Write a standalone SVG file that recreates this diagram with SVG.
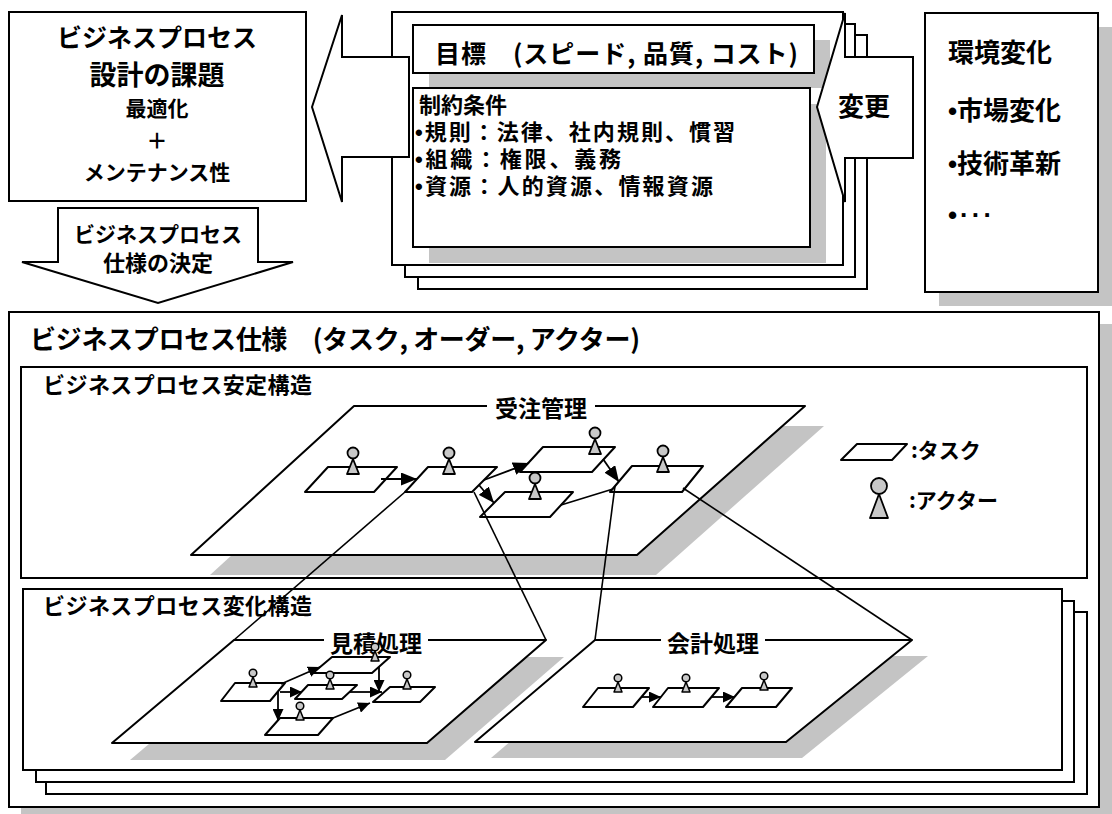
<svg xmlns="http://www.w3.org/2000/svg" width="1112" height="814" viewBox="0 0 1112 814">
<style>
  .bx{fill:#fff;stroke:#000;stroke-width:2}
  .sh{fill:#c4c4c4}
  .t{font-family:"Noto Sans CJK JP","Noto Sans",sans-serif;font-weight:bold;fill:#000}
  .b{font-family:"Liberation Sans",sans-serif;font-weight:bold}
  .ln{fill:none;stroke:#000;stroke-width:1.6}
  .task{fill:#fff;stroke:#000;stroke-width:2;stroke-linejoin:round}
  .arr{fill:none;stroke:#000;stroke-width:1.8}
  .mask{fill:#fff}
</style>
<defs>
  <marker id="ah" markerUnits="userSpaceOnUse" viewBox="0 0 17 13" markerWidth="17" markerHeight="13" refX="16" refY="6.5" orient="auto">
    <path d="M0,0 L16,6.5 L0,13 z" fill="#000"/>
  </marker>
  <marker id="ahs" markerUnits="userSpaceOnUse" viewBox="0 0 13 11" markerWidth="13" markerHeight="11" refX="12" refY="5.5" orient="auto">
    <path d="M0,0 L12,5.5 L0,11 z" fill="#000"/>
  </marker>
  <g id="actorL">
    <circle cx="0" cy="-14" r="5.5" fill="#c8c8c8" stroke="#000" stroke-width="1.8"/>
    <path d="M0,-8 L6,7 L-6,7 z" fill="#c8c8c8" stroke="#000" stroke-width="1.8" stroke-linejoin="round"/>
  </g>
  <g id="actorS">
    <circle cx="0" cy="-10" r="3.8" fill="#c8c8c8" stroke="#000" stroke-width="1.5"/>
    <path d="M0,-6 L4,4 L-4,4 z" fill="#c8c8c8" stroke="#000" stroke-width="1.5" stroke-linejoin="round"/>
  </g>
  <clipPath id="clipStable"><rect x="22" y="368" width="1064" height="209"/></clipPath>
  <clipPath id="clipChange"><rect x="24" y="590" width="1037" height="179"/></clipPath>
</defs>

<rect width="1112" height="814" fill="#fff"/>

<!-- design issues box -->
<g id="issues">
  <rect class="bx" x="9" y="12" width="297" height="189"/>
  <text class="t" x="157" y="47" font-size="25" text-anchor="middle">ビジネスプロセス</text>
  <text class="t" x="157" y="85" font-size="27" text-anchor="middle">設計の課題</text>
  <text class="t" x="157" y="116" font-size="21" text-anchor="middle">最適化</text>
  <text class="t" x="157" y="148" font-size="21" text-anchor="middle">＋</text>
  <text class="t" x="157" y="180" font-size="21" text-anchor="middle">メンテナンス性</text>
</g>

<!-- goals and constraints stack -->
<g id="goals">
  <rect class="bx" x="418" y="35" width="449" height="254"/>
  <rect class="bx" x="405" y="24" width="450" height="253"/>
  <rect class="bx" x="392" y="12" width="451" height="253"/>
  <rect class="sh" x="429" y="40" width="401" height="48"/>
  <rect class="sh" x="429" y="104" width="397" height="159"/>
  <rect class="bx" x="413" y="25" width="401" height="48"/>
  <text class="t" x="435" y="63" font-size="25" textLength="363" lengthAdjust="spacing">目標　(スピード, 品質, コスト)</text>
  <rect class="bx" x="413" y="88" width="397" height="159"/>
  <text class="t" x="419" y="113" font-size="22">制約条件</text>
  <text class="t" x="415" y="140" font-size="22" textLength="320" lengthAdjust="spacing"><tspan class="b">•</tspan>規則：法律、社内規則、慣習</text>
  <text class="t" x="415" y="167" font-size="22" textLength="206" lengthAdjust="spacing"><tspan class="b">•</tspan>組織：権限、義務</text>
  <text class="t" x="415" y="194" font-size="22" textLength="298" lengthAdjust="spacing"><tspan class="b">•</tspan>資源：人的資源、情報資源</text>
</g>

<!-- environment change box -->
<g id="environment">
  <rect class="sh" x="939" y="27" width="173" height="279"/>
  <rect class="bx" x="925" y="13" width="173" height="279"/>
  <text class="t" x="948" y="62" font-size="26">環境変化</text>
  <text class="t" x="948" y="120" font-size="26"><tspan class="b">•</tspan>市場変化</text>
  <text class="t" x="948" y="173" font-size="26"><tspan class="b">•</tspan>技術革新</text>
  <text class="b" x="948" y="224" font-size="26" letter-spacing="3">•···</text>
</g>

<!-- block arrows -->
<g id="arrow-to-issues">
  <polygon class="bx" points="312,107 342,15 342,57 409,57 409,157 342,157 342,202"/>
</g>
<g id="arrow-change">
  <polygon class="bx" points="817,107 845,13 845,57 913,57 913,158 845,158 845,202"/>
  <text class="t" x="864" y="116" font-size="26" text-anchor="middle">変更</text>
</g>
<g id="arrow-spec">
  <polygon class="bx" points="58,208 258,208 258,262 293,262 158,303 22,262 58,262"/>
  <text class="t" x="158" y="242" font-size="21" text-anchor="middle">ビジネスプロセス</text>
  <text class="t" x="158" y="271" font-size="22" text-anchor="middle">仕様の決定</text>
</g>

<!-- process specification -->
<g id="specification">
  <rect class="sh" x="21" y="324" width="1091" height="495"/>
  <rect class="bx" x="9" y="312" width="1090" height="495"/>
  <text class="t" x="30" y="349" font-size="26" textLength="610" lengthAdjust="spacing">ビジネスプロセス仕様　(タスク, オーダー, アクター)</text>
</g>

<!-- stable structure -->
<g id="stable">
  <rect class="bx" x="21" y="367" width="1066" height="211"/>
  <text class="t" x="43" y="393" font-size="22" textLength="269" lengthAdjust="spacing">ビジネスプロセス安定構造</text>
  <polygon class="sh" clip-path="url(#clipStable)" points="373,426 824,426 656,575 210,575"/>
  <polygon class="task" points="354,406 805,406 637,555 191,555"/>
  <rect class="mask" x="487" y="402" width="108" height="9"/>
  <text class="t" x="541" y="417" font-size="23" text-anchor="middle">受注管理</text>
</g>

<g id="order-tasks">
  <polygon class="task" points="328,467 397,467 374,492 305,492"/>
  <polygon class="task" points="428,467 497,467 472,492 405,492"/>
  <polygon class="task" points="543,447 615,447 592,472 520,472"/>
  <polygon class="task" points="505,492 573,492 550,517 480,517"/>
  <polygon class="task" points="632,466 703,466 682,492 610,492"/>
  <use href="#actorL" x="353" y="467"/>
  <use href="#actorL" x="449" y="467"/>
  <use href="#actorL" x="595" y="447"/>
  <use href="#actorL" x="535" y="492"/>
  <use href="#actorL" x="663" y="465"/>
</g>

<!-- legend -->
<g id="legend">
  <polygon class="task" points="857,444 907,444 892,460 841,460"/>
  <text class="t" x="911" y="458" font-size="21">:タスク</text>
  <circle cx="879" cy="486" r="8" fill="#c8c8c8" stroke="#000" stroke-width="1.8"/>
  <path d="M879,494 L888,518 L870,518 z" fill="#c8c8c8" stroke="#000" stroke-width="1.8" stroke-linejoin="round"/>
  <text class="t" x="909" y="508" font-size="21">:アクター</text>
</g>

<!-- change structure -->
<g id="change">
  <rect class="bx" x="46" y="612" width="1041" height="182"/>
  <rect class="bx" x="36" y="601" width="1038" height="181"/>
  <rect class="bx" x="23" y="589" width="1039" height="181"/>
  <text class="t" x="43" y="614" font-size="22" textLength="269" lengthAdjust="spacing">ビジネスプロセス変化構造</text>
  <polygon class="sh" clip-path="url(#clipChange)" points="252,657 564,657 445,760 130,760"/>
  <polygon class="sh" clip-path="url(#clipChange)" points="611,656 928,656 802,758 491,758"/>
  <polygon class="task" points="234,640 546,640 427,743 112,743"/>
  <polygon class="task" points="595,640 912,640 786,742 475,742"/>
  <rect class="mask" x="324" y="636" width="104" height="8"/>
  <rect class="mask" x="661" y="636" width="104" height="8"/>
  <text class="t" x="376" y="652" font-size="23" text-anchor="middle">見積処理</text>
  <text class="t" x="713" y="652" font-size="23" text-anchor="middle">会計処理</text>
</g>

<g id="estimate-tasks">
  <polygon class="task" points="235,683 285,683 270,701 221,701"/>
  <polygon class="task" points="332,657 390,657 372,673 313,673"/>
  <polygon class="task" points="308,685 357,685 342,699 295,699"/>
  <polygon class="task" points="390,687 435,687 420,702 373,702"/>
  <polygon class="task" points="280,718 333,718 318,735 265,735"/>
  <use href="#actorS" x="253" y="683"/>
  <use href="#actorS" x="375" y="657"/>
  <use href="#actorS" x="330" y="685"/>
  <use href="#actorS" x="407" y="685"/>
  <use href="#actorS" x="300" y="716"/>
</g>

<g id="accounting-tasks">
  <polygon class="task" points="598,688 649,688 633,707 583,707"/>
  <polygon class="task" points="668,688 719,688 703,707 653,707"/>
  <polygon class="task" points="742,688 792,688 776,707 726,707"/>
  <use href="#actorS" x="618" y="688"/>
  <use href="#actorS" x="686" y="688"/>
  <use href="#actorS" x="764" y="686"/>
</g>

<!-- connectors -->
<g id="connectors">
  <path class="arr" d="M381,479 L417,479" marker-end="url(#ah)"/>
  <path class="arr" d="M484,480 L529,463" marker-end="url(#ah)"/>
  <path class="arr" d="M479,485 L494,503" marker-end="url(#ah)"/>
  <path class="arr" d="M603,459 L619,482" marker-end="url(#ah)"/>
  <path class="arr" d="M561,505 L613,489"/>

  <path class="arr" d="M281,684 L320,667" marker-end="url(#ahs)"/>
  <path class="arr" d="M280,692 L302,692" marker-end="url(#ahs)"/>
  <path class="arr" d="M278,692 L278,721" marker-end="url(#ahs)"/>
  <path class="arr" d="M379,667 L379,692" marker-end="url(#ahs)"/>
  <path class="arr" d="M350,692 L382,692" marker-end="url(#ahs)"/>
  <path class="arr" d="M333,718 L370,703" marker-end="url(#ahs)"/>

  <path class="arr" d="M642,697 L661,697" marker-end="url(#ahs)"/>
  <path class="arr" d="M712,697 L735,697" marker-end="url(#ahs)"/>

  <path class="ln" d="M405,492 L234,640"/>
  <path class="ln" d="M474,492 L546,640"/>
  <path class="ln" d="M615,486 L595,640"/>
  <path class="ln" d="M683,488 L912,640"/>
</g>
</svg>
